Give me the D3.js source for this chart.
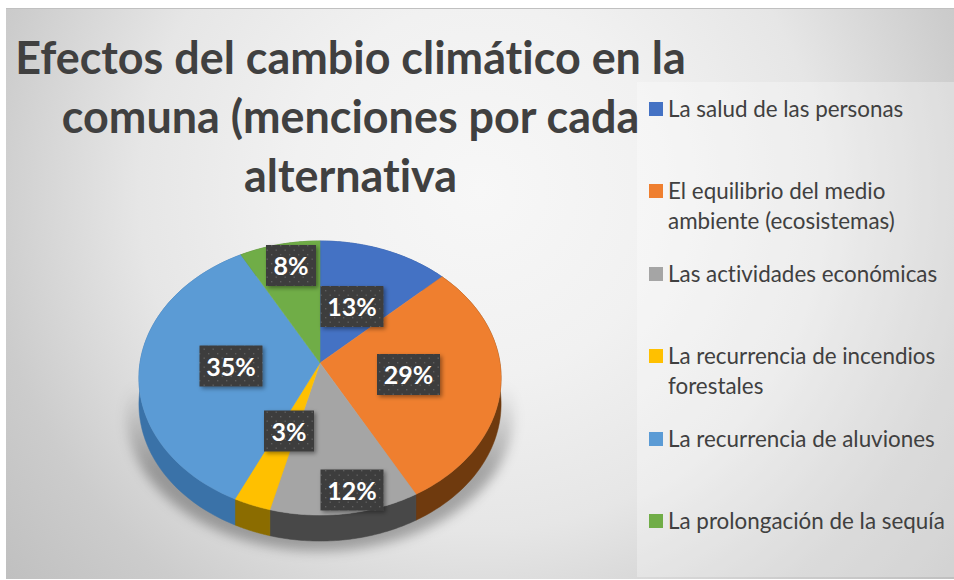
<!DOCTYPE html>
<html><head><meta charset="utf-8">
<script src="https://cdnjs.cloudflare.com/ajax/libs/d3/7.8.5/d3.min.js"></script>
<style>html,body{margin:0;padding:0;background:#fff}svg{display:block}text{font-family:Lato,"Open Sans",sans-serif;font-variant-ligatures:none;font-feature-settings:"liga" 0}</style>
</head><body><div id="c"></div>
<script>
const titleLines=["Efectos del cambio climático en la","comuna (menciones por cada","alternativa"];
const categories=["La salud de las personas","El equilibrio del medio ambiente (ecosistemas)","Las actividades económicas","La recurrencia de incendios forestales","La recurrencia de aluviones","La prolongación de la sequía"];
const legendLines=[["La salud de las personas"],["El equilibrio del medio","ambiente (ecosistemas)"],["Las actividades económicas"],["La recurrencia de incendios","forestales"],["La recurrencia de aluviones"],["La prolongación de la sequía"]];
const values=[13,29,12,3,35,8];
const topColors=["#4472c4","#ef7f2f","#a5a5a5","#ffc000","#5b9bd5","#70ad47"];
const sideColors=["#2f5597","#6f3a0e","#484848","#8b6c00","#3a72a8","#4c7a30"];
const labelPos=[[352,306.5],[408.5,374.5],[352,490],[289,431],[231,366],[291,265.5]];
const legendY=[109,191,274,356,439,521];

const W=954,H=580;
const svg=d3.select("#c").append("svg").attr("width",W).attr("height",H);
const defs=svg.append("defs");
const bg=defs.append("radialGradient").attr("id","bg").attr("gradientUnits","userSpaceOnUse")
 .attr("cx",480).attr("cy",190).attr("r",620);
[[0,"#f7f7f7"],[.3,"#f1f1f1"],[.55,"#e6e6e6"],[.8,"#cccccc"],[1,"#bfbfbf"]].forEach(s=>bg.append("stop").attr("offset",s[0]).attr("stop-color",s[1]));
const sg=defs.append("linearGradient").attr("id","sg").attr("gradientUnits","userSpaceOnUse").attr("x1",0).attr("x2",0).attr("y1",385).attr("y2",470);
sg.append("stop").attr("offset",0).attr("stop-color","#000").attr("stop-opacity",0);
sg.append("stop").attr("offset",1).attr("stop-color","#000").attr("stop-opacity",.3);
const blur=defs.append("filter").attr("id","blur").attr("x","-30%").attr("y","-30%").attr("width","160%").attr("height","160%");
blur.append("feGaussianBlur").attr("stdDeviation",6);
const lshadow=defs.append("filter").attr("id","ls").attr("x","-30%").attr("y","-30%").attr("width","160%").attr("height","160%");
lshadow.append("feDropShadow").attr("dx",2).attr("dy",2).attr("stdDeviation",2).attr("flood-color","#000").attr("flood-opacity",.4);
const pat=defs.append("pattern").attr("id","dots").attr("width",9).attr("height",9).attr("patternUnits","userSpaceOnUse");
pat.append("rect").attr("width",9).attr("height",9).attr("fill","#3c3c3c");
pat.append("rect").attr("x",1).attr("y",2).attr("width",1.4).attr("height",1.4).attr("fill","#5e5e5e");
pat.append("rect").attr("x",5.5).attr("y",6.5).attr("width",1.4).attr("height",1.4).attr("fill","#5e5e5e");

svg.append("rect").attr("x",6).attr("y",9).attr("width",W-6).attr("height",H-9-1).attr("fill","url(#bg)");
svg.append("line").attr("x1",6).attr("x2",W).attr("y1",8.5).attr("y2",8.5).attr("stroke","#c0c0c0");
svg.append("rect").attr("x",637).attr("y",82).attr("width",W-637).attr("height",495).attr("fill","#fff").attr("fill-opacity",.3);

// perspective disc
const cx=320,cy=363,Rx=180,Ry=135.4,k=.1096,depth=26;
const proj=a=>{const u=Math.sin(a),v=-Math.cos(a),w=1-k*v;return [cx+Rx*u/w,cy+Ry*v/w];};
const line=d3.line();
const pie=d3.pie().sort(null)(values);
const rim=d=>d3.range(0,61).map(i=>proj(d.startAngle+(d.endAngle-d.startAngle)*i/60));

// shadow
const full=d3.range(0,121).map(i=>proj(i/120*2*Math.PI));
svg.append("path").attr("d",line(full.map(p=>[cx+(p[0]-cx)*1.07,p[1]+36]))+"Z").attr("fill","url(#sg)").attr("filter","url(#blur)");

const s=svg.append("g");
pie.forEach((d,i)=>{
  const r=rim(d);
  const poly=r.concat(r.slice().reverse().map(p=>[p[0],p[1]+depth]));
  s.append("path").attr("d",line(poly)+"Z").attr("fill",sideColors[i]).attr("stroke",sideColors[i]).attr("stroke-width",.5);
});
pie.forEach((d,i)=>{
  s.append("path").attr("d",line([[cx,cy]].concat(rim(d)))+"Z").attr("fill",topColors[i]).attr("stroke",topColors[i]).attr("stroke-width",.5);
});

// labels
const total=d3.sum(values);
values.forEach((v,i)=>{
  const [x,y]=labelPos[i],w=v>=10?63:50;
  const g=svg.append("g");
  g.append("rect").attr("x",x-w/2).attr("y",y-20.5).attr("width",w).attr("height",41).attr("fill","url(#dots)").attr("filter","url(#ls)");
  g.append("text").attr("x",x).attr("y",y+9.5).attr("text-anchor","middle").attr("fill","#fff").attr("font-weight",700).attr("font-size",25).text(d3.format(".0%")(v/total));
});

// title
titleLines.forEach((t,i)=>{
  svg.append("text").attr("x",350.5).attr("y",74+i*59).attr("text-anchor","middle").attr("fill","#404040").attr("font-weight",700).attr("font-size",44.9).text(t);
});

// legend
categories.forEach((c,i)=>{
  svg.append("rect").attr("x",649).attr("y",legendY[i]-7).attr("width",14).attr("height",14).attr("fill",topColors[i]);
  legendLines[i].forEach((l,j)=>{
    svg.append("text").attr("x",668).attr("y",legendY[i]+8+j*29.5).attr("fill","#404040").attr("font-size",22.4).text(l);
  });
});
</script></body></html>
